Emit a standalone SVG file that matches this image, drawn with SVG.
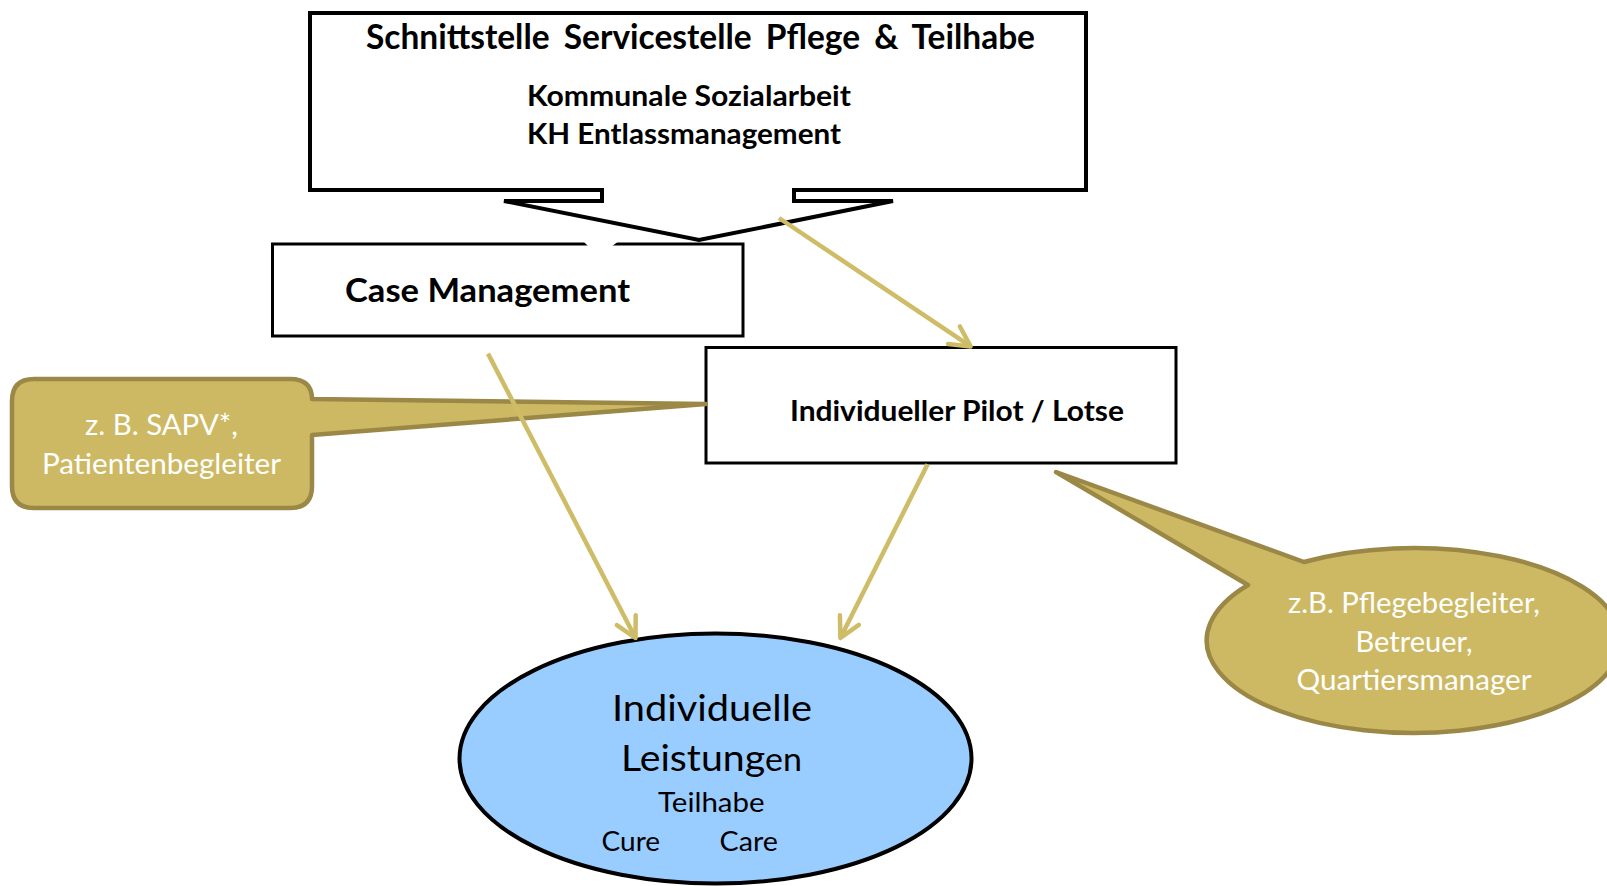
<svg xmlns="http://www.w3.org/2000/svg" width="1607" height="886" viewBox="0 0 1607 886">
<style>
.box{fill:#fff;stroke:#000;stroke-width:3}
.bt{font-family:Lato,"Open Sans","Liberation Sans",sans-serif;font-weight:bold;fill:#000}
.rt{font-family:Lato,"Open Sans","Liberation Sans",sans-serif;fill:#000}
.wt{font-family:Lato,"Open Sans","Liberation Sans",sans-serif;fill:#fff;font-size:28px}
.call{fill:#CDB964;stroke:#9B8847;stroke-width:4.5;stroke-linejoin:round}
.con{fill:none;stroke:#CFBC67;stroke-width:4.5}
</style>
<defs>
<marker id="arr" markerUnits="userSpaceOnUse" markerWidth="34" markerHeight="34" viewBox="-28 -17 34 34" refX="0" refY="0" orient="auto">
<path d="M-20,-10.6 L0,0 L-20,10.6" fill="none" stroke="#CFBC67" stroke-width="4.5" stroke-linecap="round" stroke-linejoin="round"/>
</marker>
</defs>
<rect width="1607" height="886" fill="#fff"/>

<g id="case-management">
<rect class="box" x="272.5" y="244" width="470.5" height="92"/>
<polygon points="582,240 589,247 611,247 620,240" fill="#fff"/>
<text class="bt" x="345" y="302" font-size="32" textLength="285" lengthAdjust="spacingAndGlyphs">Case Management</text>
</g>

<g id="schnittstelle">
<path d="M310,13 L1086,13 L1086,190 L794,190 L794,201 L893,201 L699,240 L504,201 L602,201 L602,190 L310,190 Z" fill="#fff" stroke="#000" stroke-width="4" stroke-linejoin="miter"/>
<text class="bt" x="366" y="49" font-size="33.5" textLength="669" lengthAdjust="spacingAndGlyphs" word-spacing="6">Schnittstelle Servicestelle Pflege &amp; Teilhabe</text>
<text class="bt" x="527" y="106" font-size="28" textLength="324" lengthAdjust="spacingAndGlyphs">Kommunale Sozialarbeit</text>
<text class="bt" x="527" y="143.5" font-size="28" textLength="314" lengthAdjust="spacingAndGlyphs">KH Entlassmanagement</text>
</g>

<g id="pilot">
<rect class="box" x="706" y="347.5" width="470" height="115.5"/>
<text class="bt" x="790" y="421" font-size="28" textLength="334" lengthAdjust="spacingAndGlyphs">Individueller Pilot / Lotse</text>
</g>

<g id="sapv-callout">
<path class="call" d="M34,379 L290,379 Q312,379 312,399 L706,404 L312,435 L312,486 Q312,508 290,508 L34,508 Q12,508 12,486 L12,401 Q12,379 34,379 Z"/>
<text class="wt" x="161.5" y="435" text-anchor="middle" textLength="153" lengthAdjust="spacingAndGlyphs">z. B. SAPV*,</text>
<text class="wt" x="161.5" y="474" text-anchor="middle" textLength="239" lengthAdjust="spacingAndGlyphs">Patientenbegleiter</text>
</g>

<g id="pflege-callout">
<path class="call" d="M1304,562 L1056,472 L1248,585 A207,92.5 0 1 0 1304,562 Z"/>
<text class="wt" x="1414" y="613" text-anchor="middle" textLength="252" lengthAdjust="spacingAndGlyphs">z.B. Pflegebegleiter,</text>
<text class="wt" x="1414" y="652" text-anchor="middle" textLength="117" lengthAdjust="spacingAndGlyphs">Betreuer,</text>
<text class="wt" x="1414" y="690" text-anchor="middle" textLength="235" lengthAdjust="spacingAndGlyphs">Quartiersmanager</text>
</g>

<g id="leistungen">
<ellipse cx="715.5" cy="758.5" rx="256" ry="125" fill="#99CCFF" stroke="#000" stroke-width="4"/>
<text class="rt" x="612" y="720.5" font-size="36" textLength="200" lengthAdjust="spacingAndGlyphs">Individuelle</text>
<text class="rt" x="621" y="771" font-size="37" textLength="181" lengthAdjust="spacingAndGlyphs">Leistung<tspan font-size="32">en</tspan></text>
<text class="rt" x="658" y="812" font-size="27" textLength="106.6" lengthAdjust="spacingAndGlyphs">Teilhabe</text>
<text class="rt" x="601.6" y="851" font-size="27" textLength="58.4" lengthAdjust="spacingAndGlyphs">Cure</text>
<text class="rt" x="719.5" y="851" font-size="27" textLength="58.4" lengthAdjust="spacingAndGlyphs">Care</text>
</g>

<g id="connectors">
<line class="con" x1="779" y1="218" x2="970.6" y2="346.4" marker-end="url(#arr)"/>
<line class="con" x1="488" y1="353.6" x2="635.5" y2="638" marker-end="url(#arr)"/>
<line class="con" x1="927.6" y1="464.3" x2="840.4" y2="638" marker-end="url(#arr)"/>
</g>
</svg>
